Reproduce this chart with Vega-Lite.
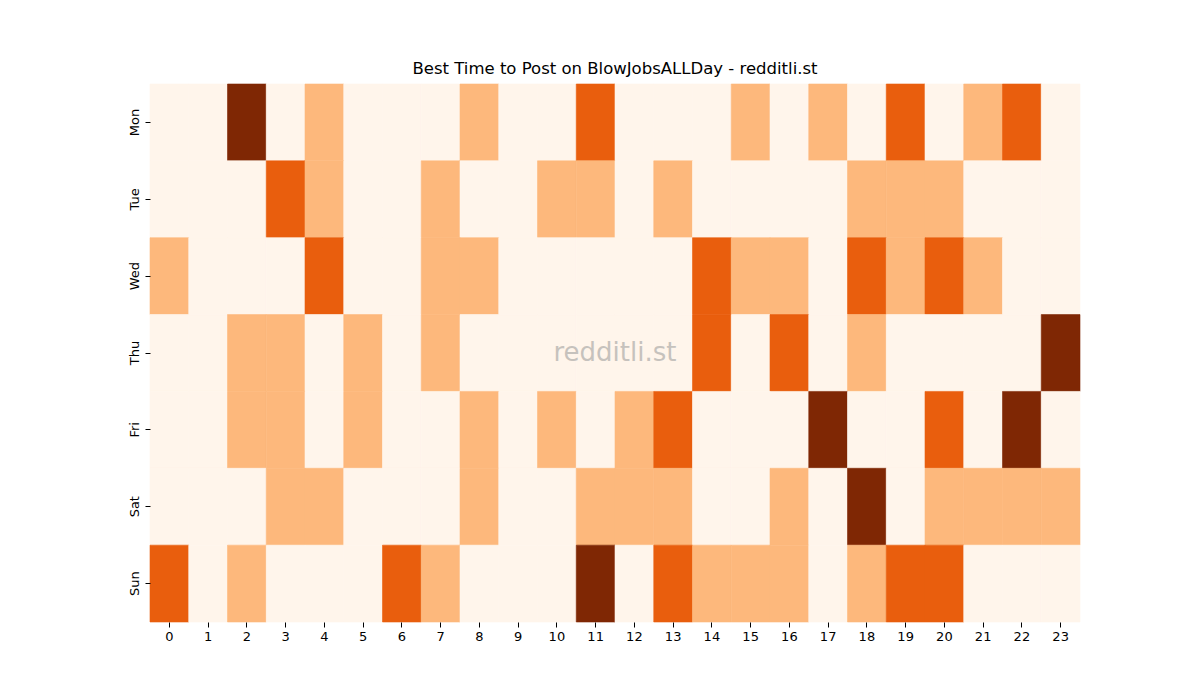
{
  "$schema": "https://vega.github.io/schema/vega-lite/v6.json",
  "width": 930,
  "height": 538,
  "autosize": {"type": "none"},
  "padding": {"left": 150, "top": 84, "right": 120, "bottom": 78},
  "background": "white",
  "title": {"text": "Best Time to Post on BlowJobsALLDay - redditli.st", "font": "DejaVu Sans", "fontSize": 16.5, "fontWeight": "normal", "color": "black", "offset": 6},
  "config": {"view": {"stroke": null}},
  "datasets": {
    "cells": [
      {"day":"Mon","hour":0,"v":0},{"day":"Mon","hour":1,"v":0},{"day":"Mon","hour":2,"v":3},{"day":"Mon","hour":3,"v":0},{"day":"Mon","hour":4,"v":1},{"day":"Mon","hour":5,"v":0},{"day":"Mon","hour":6,"v":0},{"day":"Mon","hour":7,"v":0},{"day":"Mon","hour":8,"v":1},{"day":"Mon","hour":9,"v":0},{"day":"Mon","hour":10,"v":0},{"day":"Mon","hour":11,"v":2},{"day":"Mon","hour":12,"v":0},{"day":"Mon","hour":13,"v":0},{"day":"Mon","hour":14,"v":0},{"day":"Mon","hour":15,"v":1},{"day":"Mon","hour":16,"v":0},{"day":"Mon","hour":17,"v":1},{"day":"Mon","hour":18,"v":0},{"day":"Mon","hour":19,"v":2},{"day":"Mon","hour":20,"v":0},{"day":"Mon","hour":21,"v":1},{"day":"Mon","hour":22,"v":2},{"day":"Mon","hour":23,"v":0},
      {"day":"Tue","hour":0,"v":0},{"day":"Tue","hour":1,"v":0},{"day":"Tue","hour":2,"v":0},{"day":"Tue","hour":3,"v":2},{"day":"Tue","hour":4,"v":1},{"day":"Tue","hour":5,"v":0},{"day":"Tue","hour":6,"v":0},{"day":"Tue","hour":7,"v":1},{"day":"Tue","hour":8,"v":0},{"day":"Tue","hour":9,"v":0},{"day":"Tue","hour":10,"v":1},{"day":"Tue","hour":11,"v":1},{"day":"Tue","hour":12,"v":0},{"day":"Tue","hour":13,"v":1},{"day":"Tue","hour":14,"v":0},{"day":"Tue","hour":15,"v":0},{"day":"Tue","hour":16,"v":0},{"day":"Tue","hour":17,"v":0},{"day":"Tue","hour":18,"v":1},{"day":"Tue","hour":19,"v":1},{"day":"Tue","hour":20,"v":1},{"day":"Tue","hour":21,"v":0},{"day":"Tue","hour":22,"v":0},{"day":"Tue","hour":23,"v":0},
      {"day":"Wed","hour":0,"v":1},{"day":"Wed","hour":1,"v":0},{"day":"Wed","hour":2,"v":0},{"day":"Wed","hour":3,"v":0},{"day":"Wed","hour":4,"v":2},{"day":"Wed","hour":5,"v":0},{"day":"Wed","hour":6,"v":0},{"day":"Wed","hour":7,"v":1},{"day":"Wed","hour":8,"v":1},{"day":"Wed","hour":9,"v":0},{"day":"Wed","hour":10,"v":0},{"day":"Wed","hour":11,"v":0},{"day":"Wed","hour":12,"v":0},{"day":"Wed","hour":13,"v":0},{"day":"Wed","hour":14,"v":2},{"day":"Wed","hour":15,"v":1},{"day":"Wed","hour":16,"v":1},{"day":"Wed","hour":17,"v":0},{"day":"Wed","hour":18,"v":2},{"day":"Wed","hour":19,"v":1},{"day":"Wed","hour":20,"v":2},{"day":"Wed","hour":21,"v":1},{"day":"Wed","hour":22,"v":0},{"day":"Wed","hour":23,"v":0},
      {"day":"Thu","hour":0,"v":0},{"day":"Thu","hour":1,"v":0},{"day":"Thu","hour":2,"v":1},{"day":"Thu","hour":3,"v":1},{"day":"Thu","hour":4,"v":0},{"day":"Thu","hour":5,"v":1},{"day":"Thu","hour":6,"v":0},{"day":"Thu","hour":7,"v":1},{"day":"Thu","hour":8,"v":0},{"day":"Thu","hour":9,"v":0},{"day":"Thu","hour":10,"v":0},{"day":"Thu","hour":11,"v":0},{"day":"Thu","hour":12,"v":0},{"day":"Thu","hour":13,"v":0},{"day":"Thu","hour":14,"v":2},{"day":"Thu","hour":15,"v":0},{"day":"Thu","hour":16,"v":2},{"day":"Thu","hour":17,"v":0},{"day":"Thu","hour":18,"v":1},{"day":"Thu","hour":19,"v":0},{"day":"Thu","hour":20,"v":0},{"day":"Thu","hour":21,"v":0},{"day":"Thu","hour":22,"v":0},{"day":"Thu","hour":23,"v":3},
      {"day":"Fri","hour":0,"v":0},{"day":"Fri","hour":1,"v":0},{"day":"Fri","hour":2,"v":1},{"day":"Fri","hour":3,"v":1},{"day":"Fri","hour":4,"v":0},{"day":"Fri","hour":5,"v":1},{"day":"Fri","hour":6,"v":0},{"day":"Fri","hour":7,"v":0},{"day":"Fri","hour":8,"v":1},{"day":"Fri","hour":9,"v":0},{"day":"Fri","hour":10,"v":1},{"day":"Fri","hour":11,"v":0},{"day":"Fri","hour":12,"v":1},{"day":"Fri","hour":13,"v":2},{"day":"Fri","hour":14,"v":0},{"day":"Fri","hour":15,"v":0},{"day":"Fri","hour":16,"v":0},{"day":"Fri","hour":17,"v":3},{"day":"Fri","hour":18,"v":0},{"day":"Fri","hour":19,"v":0},{"day":"Fri","hour":20,"v":2},{"day":"Fri","hour":21,"v":0},{"day":"Fri","hour":22,"v":3},{"day":"Fri","hour":23,"v":0},
      {"day":"Sat","hour":0,"v":0},{"day":"Sat","hour":1,"v":0},{"day":"Sat","hour":2,"v":0},{"day":"Sat","hour":3,"v":1},{"day":"Sat","hour":4,"v":1},{"day":"Sat","hour":5,"v":0},{"day":"Sat","hour":6,"v":0},{"day":"Sat","hour":7,"v":0},{"day":"Sat","hour":8,"v":1},{"day":"Sat","hour":9,"v":0},{"day":"Sat","hour":10,"v":0},{"day":"Sat","hour":11,"v":1},{"day":"Sat","hour":12,"v":1},{"day":"Sat","hour":13,"v":1},{"day":"Sat","hour":14,"v":0},{"day":"Sat","hour":15,"v":0},{"day":"Sat","hour":16,"v":1},{"day":"Sat","hour":17,"v":0},{"day":"Sat","hour":18,"v":3},{"day":"Sat","hour":19,"v":0},{"day":"Sat","hour":20,"v":1},{"day":"Sat","hour":21,"v":1},{"day":"Sat","hour":22,"v":1},{"day":"Sat","hour":23,"v":1},
      {"day":"Sun","hour":0,"v":2},{"day":"Sun","hour":1,"v":0},{"day":"Sun","hour":2,"v":1},{"day":"Sun","hour":3,"v":0},{"day":"Sun","hour":4,"v":0},{"day":"Sun","hour":5,"v":0},{"day":"Sun","hour":6,"v":2},{"day":"Sun","hour":7,"v":1},{"day":"Sun","hour":8,"v":0},{"day":"Sun","hour":9,"v":0},{"day":"Sun","hour":10,"v":0},{"day":"Sun","hour":11,"v":3},{"day":"Sun","hour":12,"v":0},{"day":"Sun","hour":13,"v":2},{"day":"Sun","hour":14,"v":1},{"day":"Sun","hour":15,"v":1},{"day":"Sun","hour":16,"v":1},{"day":"Sun","hour":17,"v":0},{"day":"Sun","hour":18,"v":1},{"day":"Sun","hour":19,"v":2},{"day":"Sun","hour":20,"v":2},{"day":"Sun","hour":21,"v":0},{"day":"Sun","hour":22,"v":0},{"day":"Sun","hour":23,"v":0}
    ],
    "mark": [{"day":"Thu","hour":11,"label":"redditli.st"}]
  },
  "layer": [
    {
      "data": {"name": "cells"},
      "mark": {"type": "rect", "strokeWidth": 0.6},
      "encoding": {
        "x": {"field": "hour", "type": "ordinal", "title": null,
          "scale": {"domain": [0,1,2,3,4,5,6,7,8,9,10,11,12,13,14,15,16,17,18,19,20,21,22,23], "paddingInner": 0, "paddingOuter": 0},
          "axis": {"labelAngle": 0, "domain": false, "tickColor": "black", "tickSize": 5, "labelFont": "DejaVu Sans", "labelFontSize": 13, "labelColor": "black", "labelPadding": 3}},
        "y": {"field": "day", "type": "ordinal", "title": null,
          "scale": {"domain": ["Mon","Tue","Wed","Thu","Fri","Sat","Sun"], "paddingInner": 0, "paddingOuter": 0},
          "axis": {"labelAngle": -90, "labelAlign": "center", "labelBaseline": "bottom", "domain": false, "tickColor": "black", "tickSize": 5, "labelFont": "DejaVu Sans", "labelFontSize": 13, "labelColor": "black", "labelPadding": 4}},
        "color": {"field": "v", "type": "ordinal", "legend": null,
          "scale": {"domain": [0,1,2,3], "range": ["#fff5eb", "#fdb87c", "#e95e0d", "#7f2704"]}},
        "stroke": {"field": "v", "type": "ordinal", "legend": null,
          "scale": {"domain": [0,1,2,3], "range": ["#fff5eb", "#fdb87c", "#e95e0d", "#7f2704"]}}
      }
    },
    {
      "data": {"name": "mark"},
      "mark": {"type": "text", "font": "DejaVu Sans", "fontSize": 26, "color": "#999999", "opacity": 0.55, "align": "center", "baseline": "middle"},
      "encoding": {
        "x": {"field": "hour", "type": "ordinal", "bandPosition": 1},
        "y": {"field": "day", "type": "ordinal"},
        "text": {"field": "label"}
      }
    }
  ]
}
